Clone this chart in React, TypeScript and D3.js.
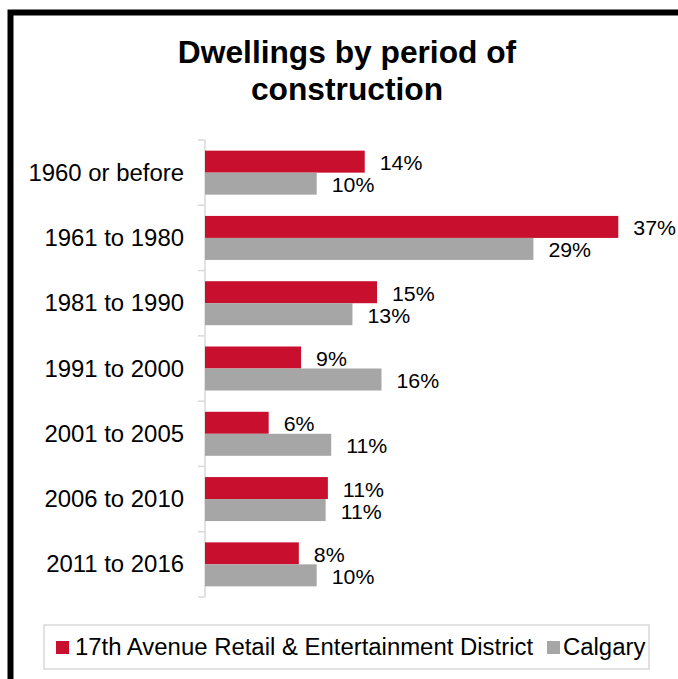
import React from 'react';
import * as d3 from 'd3';

const categories = [
  '1960 or before',
  '1961 to 1980',
  '1981 to 1990',
  '1991 to 2000',
  '2001 to 2005',
  '2006 to 2010',
  '2011 to 2016',
];
const district = [14.3, 37.0, 15.4, 8.6, 5.7, 11.0, 8.4];
const calgary = [10.0, 29.4, 13.2, 15.8, 11.3, 10.8, 10.0];
const seriesNames = ['17th Avenue Retail & Entertainment District', 'Calgary'];
const seriesColors = ['#C8102E', '#A6A6A6'];
const titleLines = ['Dwellings by period of', 'construction'];

const W = 678;
const H = 679;
const FONT = "Arial, 'Liberation Sans', sans-serif";
const SX = 1.04; // the source picture is slightly stretched horizontally

const App: React.FC = () => {
  const x = d3.scaleLinear().domain([0, 40]).range([205, 651.8]);
  const y = d3.scaleBand<string>().domain(categories).range([140, 597]);
  const barH = 22;
  const series = [district, calgary];

  const stretched = (tx: number, ty: number, sx = SX) => `translate(${tx},${ty}) scale(${sx},1)`;

  return (
    <div style={{ position: 'fixed', left: 0, top: 0 }}>
      <svg width={W} height={H} style={{ display: 'block', background: '#fff' }}>
        <rect x={10.5} y={12.5} width={720} height={720} fill="#fff" stroke="#000" strokeWidth={6} />

        {titleLines.map((t, i) => (
          <text
            key={t}
            transform={stretched(347, 63 + i * 37)}
            textAnchor="middle"
            fontFamily={FONT}
            fontWeight="bold"
            fontSize={30.5}
            fill="#000"
          >
            {t}
          </text>
        ))}

        {/* category axis */}
        <line x1={205} x2={205} y1={140} y2={597} stroke="#d9d9d9" strokeWidth={1.5} />
        {[...categories.map(c => y(c)!), 597].map((v, i) => (
          <line key={i} x1={198} x2={205} y1={v} y2={v} stroke="#d9d9d9" strokeWidth={1.5} />
        ))}
        {categories.map(c => (
          <text
            key={c}
            transform={stretched(184, y(c)! + y.bandwidth() / 2 + 8)}
            textAnchor="end"
            fontFamily={FONT}
            fontSize={23}
            fill="#000"
          >
            {c}
          </text>
        ))}

        {categories.map((c, ci) => {
          const mid = y(c)! + y.bandwidth() / 2;
          return series.map((s, si) => {
            const top = mid - barH + si * barH;
            return (
              <g key={`${c}-${si}`}>
                <rect
                  x={x(0)}
                  y={top}
                  width={x(s[ci]) - x(0)}
                  height={barH}
                  fill={seriesColors[si]}
                />
                <text
                  transform={stretched(x(s[ci]) + 15, top + barH / 2 + 8.5)}
                  fontFamily={FONT}
                  fontSize={20.5}
                  fill="#000"
                >
                  {`${Math.round(s[ci])}%`}
                </text>
              </g>
            );
          });
        })}

        {/* legend */}
        <rect x={44} y={625} width={605} height={44} fill="#fff" stroke="#d9d9d9" strokeWidth={1.5} />
        <rect x={56} y={641} width={13} height={13} fill={seriesColors[0]} />
        <text transform={stretched(75, 655)} fontFamily={FONT} fontSize={23} fill="#000">
          {seriesNames[0]}
        </text>
        <rect x={547} y={641} width={13} height={13} fill={seriesColors[1]} />
        <text transform={stretched(563, 655)} fontFamily={FONT} fontSize={23} fill="#000">
          {seriesNames[1]}
        </text>
      </svg>
    </div>
  );
};

export default App;
